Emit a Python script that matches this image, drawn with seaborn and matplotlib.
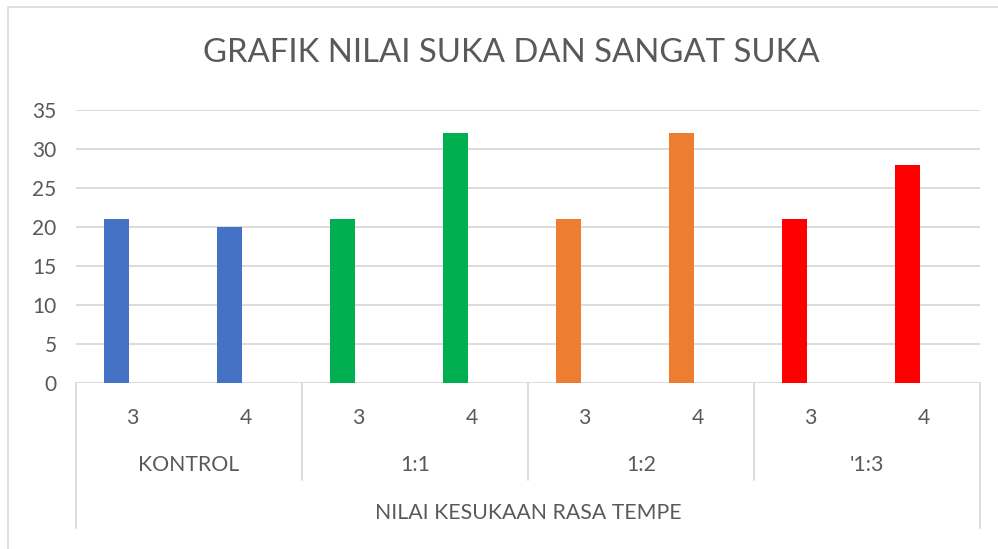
import matplotlib
matplotlib.use("Agg")
import matplotlib.pyplot as plt
import seaborn as sns
import pandas as pd
from matplotlib.patches import Rectangle

groups = ["KONTROL", "1:1", "1:2", "'1:3"]
sub_labels = ["3", "4"]
values = [21, 20, 21, 32, 21, 32, 21, 28]
colors = ["#4472C4", "#00B050", "#ED7D31", "#FF0000"]
title = "GRAFIK NILAI SUKA DAN SANGAT SUKA"
axis_title = "NILAI KESUKAAN RASA TEMPE"
yticks = [0, 5, 10, 15, 20, 25, 30, 35]

rows = []
for gi, g in enumerate(groups):
    for si, s in enumerate(sub_labels):
        rows.append({"pos": f"{g}|{s}", "group": g, "sub": s,
                     "value": values[gi * 2 + si]})
df = pd.DataFrame(rows)

sns.set_theme(style="white")
plt.rcParams['font.family'] = ['Lato', 'DejaVu Sans']
txt = "#595959"
grid = "#d9d9d9"

W, H = 998, 549
fig = plt.figure(figsize=(W / 100, H / 100), dpi=100)
fig.patches.append(Rectangle((8 / W, -0.1), 1.2, 1 - 7 / H + 0.1,
                             transform=fig.transFigure, fill=False,
                             edgecolor=grid, linewidth=1.2))
ax = fig.add_axes([76 / W, 1 - 383 / H, (980 - 76) / W, (383 - 110) / H])

sns.barplot(data=df, x="pos", y="value", hue="group", palette=colors,
            dodge=False, width=0.22, ax=ax, legend=False, saturation=1)
for p in ax.patches:
    p.set_x(p.get_x() - 0.14)
    p.set_linewidth(0)

ax.set_ylim(0, 35)
ax.set_xlim(-0.5, 7.5)
ax.set_yticks(yticks)
ax.set_yticklabels([str(t) for t in yticks], color=txt, fontsize=15)
ax.tick_params(axis="y", length=0, pad=14)
ax.set_xticks([])
ax.set_xlabel("")
ax.set_ylabel("")
for t in yticks:
    ax.axhline(t, color=grid, linewidth=1.3, zorder=0)
for sp in ax.spines.values():
    sp.set_visible(False)

ppu = 39 / 5.0
def dy(py):
    return (383 - py) / ppu

fs = 15.3
for i in range(8):
    ax.text(i, dy(418), sub_labels[i % 2], ha="center", va="center",
            color=txt, fontsize=fs, clip_on=False)
for gi, g in enumerate(groups):
    ax.text(gi * 2 + 0.5, dy(465), g, ha="center", va="center",
            color=txt, fontsize=fs, clip_on=False)
ax.text(3.5, dy(513), axis_title, ha="center", va="center",
        color=txt, fontsize=fs, clip_on=False)
for xv in [1.5, 3.5, 5.5]:
    ax.plot([xv, xv], [0, dy(480)], color=grid, lw=1.3, clip_on=False)
for xv in [-0.5, 7.5]:
    ax.plot([xv, xv], [0, dy(528)], color=grid, lw=1.3, clip_on=False)

fig.text(511 / W, 1 - 53 / H, title, ha="center", va="center",
         color=txt, fontsize=23.7)

fig.savefig("out.png", dpi=100, facecolor="white")
